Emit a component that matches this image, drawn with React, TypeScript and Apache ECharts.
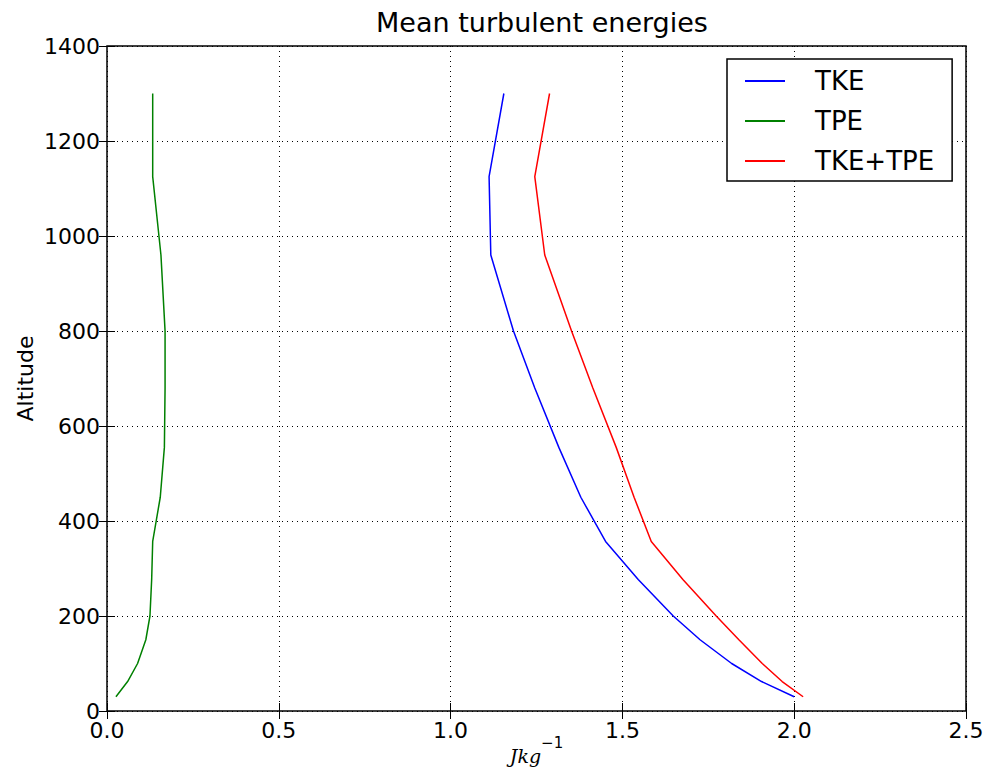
import React, { useEffect, useRef } from "react";
import * as echarts from "echarts";

const altitudes = [30, 62, 100, 150, 200, 277, 357, 450, 555, 680, 800, 960, 1125, 1300];
const tke = [2.0, 1.905, 1.818, 1.726, 1.648, 1.546, 1.451, 1.379, 1.315, 1.245, 1.183, 1.117, 1.112, 1.155];
const tpe = [0.026, 0.06, 0.089, 0.113, 0.125, 0.13, 0.133, 0.155, 0.167, 0.169, 0.169, 0.157, 0.133, 0.133];
const tkeTpe = [2.026, 1.965, 1.907, 1.839, 1.773, 1.676, 1.584, 1.534, 1.482, 1.414, 1.352, 1.274, 1.245, 1.288];
const seriesNames = ["TKE", "TPE", "TKE+TPE"];
const seriesColors = ["#0000ff", "#008000", "#ff0000"];
const xTicks = { min: 0, max: 2.5, interval: 0.5 };
const yTicks = { min: 0, max: 1400, interval: 200 };

const FONT = "DejaVu Sans";

export default function App() {
  const ref = useRef<HTMLDivElement>(null);
  useEffect(() => {
    if (!ref.current) return;
    const chart = echarts.init(ref.current, undefined, { renderer: "svg", width: 987, height: 774 });
    const all = [tke, tpe, tkeTpe];
    const series = all.map((vals, i) => ({
      name: seriesNames[i],
      type: "line",
      xAxisIndex: 0,
      yAxisIndex: 0,
      data: vals.map((v, j) => [v, altitudes[j]]),
      symbol: "none",
      lineStyle: { color: seriesColors[i], width: 1.5 },
      itemStyle: { color: seriesColors[i] },
      z: 3,
    }));
    const gridLine = { show: true, lineStyle: { color: "#000", type: [1, 4], width: 1 } };
    const tick = { show: true, inside: true, length: 8, lineStyle: { color: "#000", width: 1 } };
    chart.setOption({
      animation: false,
      backgroundColor: "#fff",
      title: {
        text: "Mean turbulent energies",
        left: 537,
        textAlign: "center",
        top: 4,
        textStyle: { fontFamily: FONT, fontSize: 27, fontWeight: "normal", color: "#000" },
      },
      legend: {
        orient: "vertical",
        left: 727,
        top: 59,
        data: seriesNames,
        icon: "rect",
        backgroundColor: "#fff",
        borderColor: "#000",
        borderWidth: 1.5,
        borderRadius: 0,
        padding: [9, 18, 7, 18],
        itemWidth: 40,
        itemHeight: 2,
        itemGap: 14,
        textStyle: { fontFamily: FONT, fontSize: 26, color: "#000", padding: [0, 0, 0, 25] },
      },
      grid: {
        left: 107,
        right: 21,
        top: 46,
        bottom: 63,
        outerBoundsMode: "none",
        containLabel: false,
        show: true,
        borderColor: "#000",
        borderWidth: 1.5,
        backgroundColor: "transparent",
      },
      xAxis: [
        {
          type: "value",
          ...xTicks,
          axisLine: { show: false },
          axisTick: tick,
          axisLabel: {
            formatter: (v: number) => v.toFixed(1),
            fontFamily: FONT,
            fontSize: 22,
            color: "#000",
            margin: 8,
          },
          splitLine: gridLine,
          name: "{a|Jkg}{b|−1}",
          nameLocation: "middle",
          nameGap: 24,
          nameMoveOverlap: false,
          nameTextStyle: {
            rich: {
              a: { fontFamily: "DejaVu Serif", fontStyle: "italic", fontSize: 19, color: "#000", lineHeight: 30, verticalAlign: "bottom" },
              b: { fontFamily: "DejaVu Sans", fontSize: 15, color: "#000", lineHeight: 30, verticalAlign: "top" },
            },
          },
        },
        {
          type: "value",
          ...xTicks,
          position: "top",
          axisLine: { show: false },
          axisTick: tick,
          axisLabel: { show: false },
          splitLine: { show: false },
        },
      ],
      yAxis: [
        {
          type: "value",
          ...yTicks,
          axisLine: { show: false },
          axisTick: tick,
          axisLabel: { fontFamily: FONT, fontSize: 22, color: "#000", margin: 7, formatter: (v: number) => String(v) },
          splitLine: gridLine,
          name: "Altitude",
          nameLocation: "middle",
          nameGap: 71,
          nameMoveOverlap: false,
          nameRotate: 90,
          nameTextStyle: { fontFamily: FONT, fontSize: 22, color: "#000" },
        },
        {
          type: "value",
          ...yTicks,
          position: "right",
          axisLine: { show: false },
          axisTick: tick,
          axisLabel: { show: false },
          splitLine: { show: false },
        },
      ],
      series,
    });
    return () => chart.dispose();
  }, []);
  return (
    <div
      ref={ref}
      style={{ position: "fixed", left: 0, top: 0, width: 987, height: 774 }}
    />
  );
}
